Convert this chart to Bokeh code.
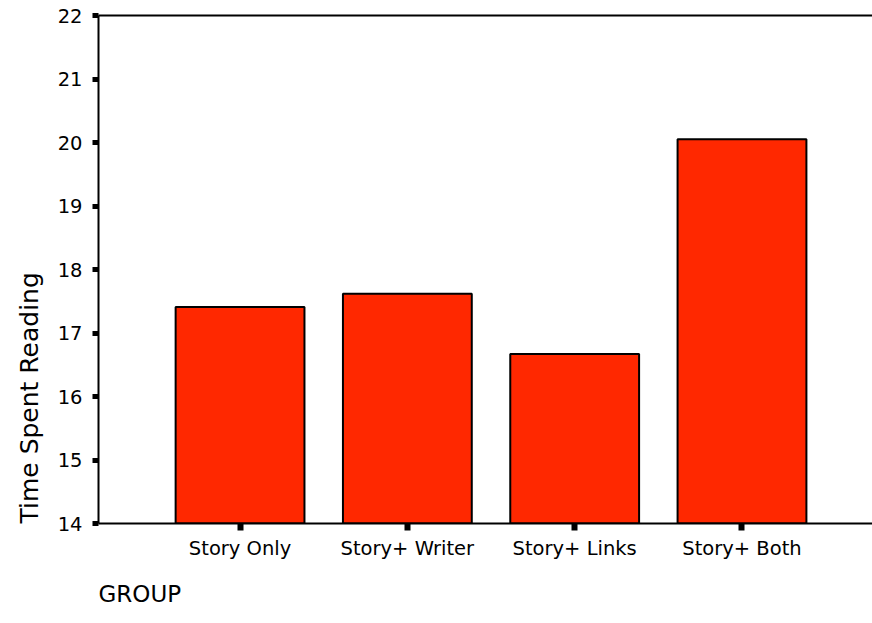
from bokeh.plotting import figure
from bokeh.models import Range1d, FixedTicker, LinearAxis, Title
from bokeh.embed import file_html
from bokeh.resources import INLINE

groups = ["Story Only", "Story+ Writer", "Story+ Links", "Story+ Both"]
time_spent = [17.41, 17.62, 16.67, 20.05]
y_ticks = [14, 15, 16, 17, 18, 19, 20, 21, 22]
y_label = "Time Spent Reading"
x_label = "GROUP"

positions = list(range(1, len(groups) + 1))
FONT = "DejaVu Sans"
Y_START, Y_END = 14, 22

p = figure(width=872, height=623, output_backend="svg", toolbar_location=None,
           x_range=Range1d(0.154, 4.78), y_range=Range1d(Y_START, Y_END),
           min_border_left=98, min_border_top=15, min_border_bottom=100,
           min_border_right=0)
p.outline_line_color = None
p.background_fill_color = "white"
p.border_fill_color = "white"
p.xgrid.grid_line_color = None
p.ygrid.grid_line_color = None

xb = p.xaxis[0]
yl = p.yaxis[0]

p.vbar(x=positions, top=time_spent, bottom=Y_START, width=0.77,
       fill_color="#FF2800", line_color="black", line_width=2)

# top frame line
top = LinearAxis(ticker=FixedTicker(ticks=[]), major_label_text_font_size="0px",
                 major_tick_out=0, major_tick_in=0, minor_tick_line_color=None,
                 axis_line_width=2, axis_line_color="black")
p.add_layout(top, "above")

for ax in (xb, yl):
    ax.axis_line_width = 2
    ax.axis_line_color = "black"
    ax.major_tick_in = 0
    ax.minor_tick_line_color = None
    ax.major_label_text_font = FONT
    ax.major_label_text_color = "black"
    ax.major_label_text_font_size = "19.5px"

xb.ticker = FixedTicker(ticks=positions)
xb.major_label_overrides = {pos: g for pos, g in zip(positions, groups)}
xb.major_tick_out = 7
xb.major_tick_line_width = 6
xb.major_label_standoff = 6

yl.ticker = FixedTicker(ticks=y_ticks)
yl.major_tick_out = 6
yl.major_tick_line_width = 5
yl.major_label_standoff = 10

p.add_layout(Title(text=y_label, align="left", text_font=FONT, text_font_size="25px",
                   text_font_style="normal", text_color="black", standoff=22, offset=0),
             "left")
p.add_layout(Title(text=x_label, align="left", text_font=FONT, text_font_size="23px",
                   text_font_style="normal", text_color="black", standoff=33, offset=0),
             "below")

open("out.html", "w").write(file_html(p, INLINE))
